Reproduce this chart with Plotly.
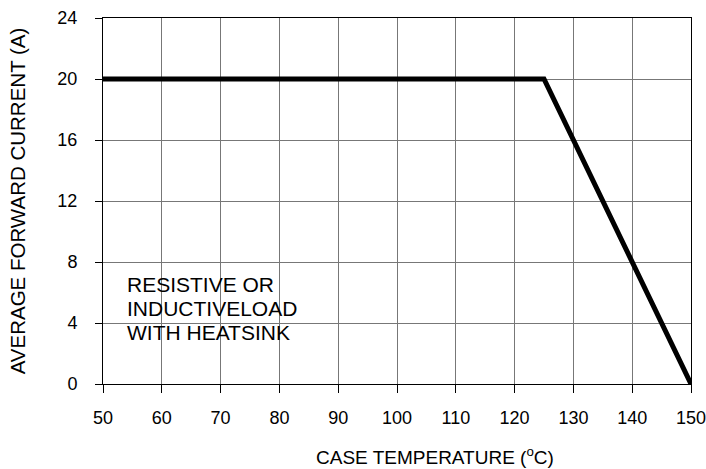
import plotly.graph_objects as go

temperature = [50, 125, 150]
current = [20, 20, 0]
x_ticks = [50, 60, 70, 80, 90, 100, 110, 120, 130, 140, 150]
y_ticks = [0, 4, 8, 12, 16, 20, 24]
note_lines = ["RESISTIVE OR", "INDUCTIVELOAD", "WITH HEATSINK"]
x_title = "CASE TEMPERATURE (<sup>o</sup>C)"
y_title = "AVERAGE FORWARD CURRENT (A)"

font = "Liberation Sans, Arial, sans-serif"

fig = go.Figure()
fig.add_trace(go.Scatter(x=temperature, y=current, mode="lines",
                         line=dict(color="black", width=5), showlegend=False,
                         cliponaxis=False))

for i, line in enumerate(note_lines):
    fig.add_annotation(x=53.8, y=6.5, xref="x", yref="y", text=line, yshift=-24 * i,
                       showarrow=False, xanchor="left", yanchor="middle", align="left",
                       font=dict(family=font, size=21, color="black"))

fig.add_annotation(x=0.565, y=-0.197, xref="paper", yref="paper", text=x_title,
                   showarrow=False, xanchor="center", yanchor="middle",
                   font=dict(family=font, size=19, color="black"))

fig.update_layout(
    width=706, height=469,
    margin=dict(l=103, r=15, t=18, b=85, autoexpand=False),
    paper_bgcolor="white", plot_bgcolor="white",
    font=dict(family=font, size=18, color="black"),
    xaxis=dict(range=[50, 150], tickvals=x_ticks, ticks="outside", ticklen=8,
               tickcolor="black", showline=True, linecolor="black", linewidth=1,
               mirror=True, showgrid=True, gridcolor="#777777", gridwidth=1,
               zeroline=False, ticklabelstandoff=9, automargin=False,
               ticklabeloverflow="allow"),
    yaxis=dict(range=[0, 24], tickvals=y_ticks, ticks="outside", ticklen=7,
               tickcolor="black", showline=True, linecolor="black", linewidth=1,
               mirror=True, showgrid=True, gridcolor="#777777", gridwidth=1,
               zeroline=False, ticklabelstandoff=14, automargin=False,
               ticklabeloverflow="allow",
               title=dict(text=y_title, standoff=26, font=dict(size=20.5))),
)

fig.write_html("out.html", config={"displayModeBar": False},
               post_script="document.body.style.margin='0';")
